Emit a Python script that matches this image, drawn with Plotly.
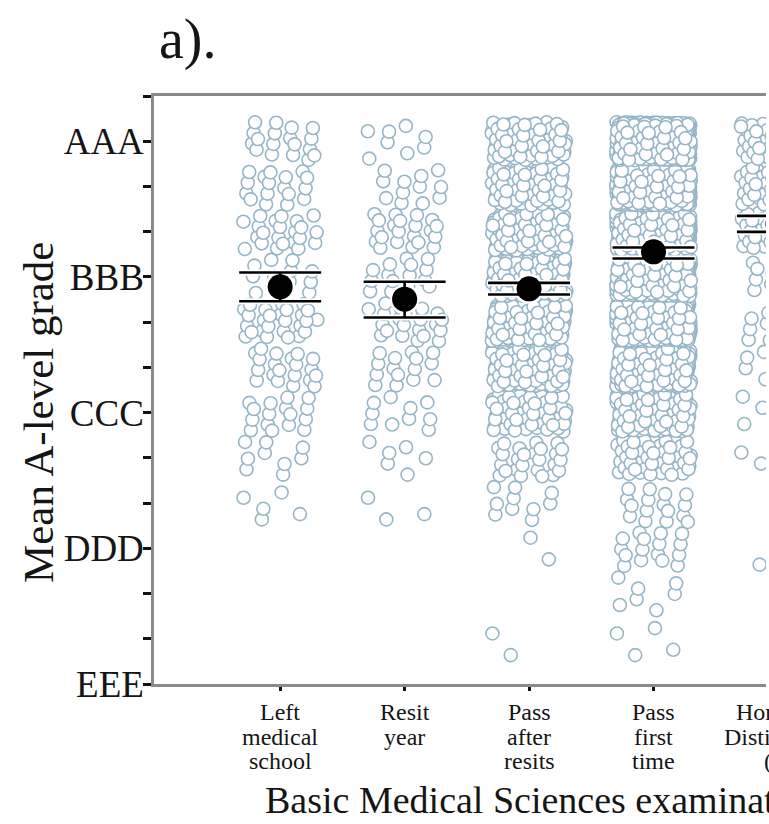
import plotly.graph_objects as go

# ---------------- data ----------------
categories = ["Left medical school", "Resit year", "Pass after resits",
              "Pass first time", "Honours / Distinction"]
category_label_lines = [["Left", "medical", "school"],
                        ["Resit", "year"],
                        ["Pass", "after", "resits"],
                        ["Pass", "first", "time"],
                        ["Honours", "Distinction", "(1)"]]

# grade levels from EEE (0) to AAA (4) in steps of one grade on one A-level (1/3)
grade_levels = [0, 1/3, 2/3, 1, 4/3, 5/3, 2, 7/3, 8/3, 3, 10/3, 11/3, 4]
grade_tick_text = ["EEE", "DDD", "CCC", "BBB", "AAA"]

# number of students at each grade level (estimated from the strip plot)
counts_left = [0, 0, 0, 0, 5, 9, 16, 20, 26, 12, 22, 17, 18]
counts_resit = [0, 0, 0, 0, 3, 6, 10, 15, 21, 15, 21, 12, 8]
counts_pass_after = [0, 2, 0, 2, 10, 25, 80, 130, 140, 120, 110, 90, 100]
counts_pass_first = [0, 4, 7, 16, 16, 60, 140, 260, 340, 400, 450, 480, 480]
counts_honours = [0, 0, 0, 1, 0, 4, 6, 9, 12, 14, 45, 55, 60]
all_counts = [counts_left, counts_resit, counts_pass_after,
              counts_pass_first, counts_honours]

# group means with 95% confidence limits
mean_grade = [2.927, 2.836, 2.912, 3.185, 3.39]
ci_low = [2.821, 2.701, 2.871, 3.136, 3.332]
ci_high = [3.033, 2.964, 2.956, 3.217, 3.450]

x_title = "Basic Medical Sciences examination"
y_title = "Mean A-level grade"
panel_label = "a)."

# ---------------- layout helpers ----------------
W, H = 769, 824
L, R, T, B = 154, 3, 96, 140
X0, X1 = -0.014, 4.904
Y0, Y1 = 0.0, 13 / 3
plot_w = W - L - R
plot_h = H - T - B

def px_to_paper_y(py):
    return (H - B - py) / plot_h

def px_to_paper_x(px):
    return (px - L) / plot_w

def cat_to_paper_x(c):
    return (c - X0) / (X1 - X0)

SERIF = "Liberation Serif, Times New Roman, serif"
TXT = "#151515"

fig = go.Figure()

# jittered strip points (deterministic low-discrepancy jitter)
a1, a2 = 0.7548776662466927, 0.5698402909980532
for ci, counts in enumerate(all_counts):
    xs, ys = [], []
    n = 0
    for lvl, c in zip(grade_levels, counts):
        for _ in range(c):
            n += 1
            u = (0.5 + a1 * n) % 1.0
            v = (0.5 + a2 * n) % 1.0
            xs.append(ci + 1 + (u - 0.5) * 0.60)
            ys.append(lvl + (v - 0.5) * 0.28)
    fig.add_trace(go.Scatter(
        x=xs, y=ys, mode="markers", hoverinfo="skip",
        marker=dict(size=13, color="white",
                    line=dict(color="rgb(150,182,200)", width=1.6)),
    ))

cat_pos = [i + 1 for i in range(len(categories))]
err_up = [h - m for h, m in zip(ci_high, mean_grade)]
err_dn = [m - l for m, l in zip(mean_grade, ci_low)]

# white halo under the mean / CI marks
fig.add_trace(go.Scatter(
    x=cat_pos, y=mean_grade, mode="markers", hoverinfo="skip",
    marker=dict(size=30, color="white"),
    error_y=dict(type="data", symmetric=False, array=err_up, arrayminus=err_dn,
                 width=42, thickness=6, color="white"),
))
fig.add_trace(go.Scatter(
    x=cat_pos, y=mean_grade, mode="markers", hovertext=categories,
    marker=dict(size=25, color="black"),
    error_y=dict(type="data", symmetric=False, array=err_up, arrayminus=err_dn,
                 width=41, thickness=2.6, color="black"),
))

annotations = []
# category labels (one annotation per line)
line_y0, line_dy = 712, 24.5
for ci, lines in enumerate(category_label_lines):
    for k, t in enumerate(lines):
        annotations.append(dict(
            text=t, xref="paper", yref="paper",
            x=cat_to_paper_x(ci + 1), y=px_to_paper_y(line_y0 + k * line_dy),
            xanchor="center", yanchor="middle", showarrow=False,
            font=dict(family=SERIF, size=24, color=TXT)))
# x title
annotations.append(dict(
    text=x_title, xref="paper", yref="paper",
    x=px_to_paper_x(263), y=px_to_paper_y(800),
    xanchor="left", yanchor="middle", showarrow=False,
    font=dict(family=SERIF, size=38, color=TXT)))
# y title
annotations.append(dict(
    text=y_title, xref="paper", yref="paper",
    x=px_to_paper_x(38), y=px_to_paper_y(413),
    xanchor="center", yanchor="middle", textangle=-90, showarrow=False,
    font=dict(family=SERIF, size=43, color=TXT)))
# panel label
annotations.append(dict(
    text=panel_label, xref="paper", yref="paper",
    x=px_to_paper_x(157), y=px_to_paper_y(40),
    xanchor="left", yanchor="middle", showarrow=False,
    font=dict(family=SERIF, size=56, color=TXT)))

y_tickvals = [k / 3 for k in range(14)]
y_ticktext = [grade_tick_text[k // 3] if (k % 3 == 0 and k // 3 < len(grade_tick_text)) else ""
              for k in range(14)]

fig.update_layout(
    width=W, height=H,
    margin=dict(l=L, r=R, t=T, b=B, pad=0, autoexpand=False),
    paper_bgcolor="white", plot_bgcolor="white",
    showlegend=False,
    annotations=annotations,
    xaxis=dict(range=[X0, X1], tickvals=cat_pos, ticktext=[""] * len(cat_pos),
               ticks="outside", ticklen=4, tickwidth=3, tickcolor="#111",
               showline=True, linecolor="#8a8a8a", linewidth=2.5, mirror=True,
               showgrid=False, zeroline=False, fixedrange=True, automargin=False),
    yaxis=dict(range=[Y0, Y1], tickvals=y_tickvals, ticktext=y_ticktext,
               ticks="outside", ticklen=8, tickwidth=3, tickcolor="#111",
               tickfont=dict(family=SERIF, size=37, color=TXT),
               ticklabelstandoff=-8,
               showline=True, linecolor="#8a8a8a", linewidth=2.5,
               showgrid=False, zeroline=False, fixedrange=True, automargin=False),
)

fig.write_html(
    "out.html",
    config={"displayModeBar": False},
    post_script="document.body.style.margin='0';document.body.style.overflow='hidden';",
)
